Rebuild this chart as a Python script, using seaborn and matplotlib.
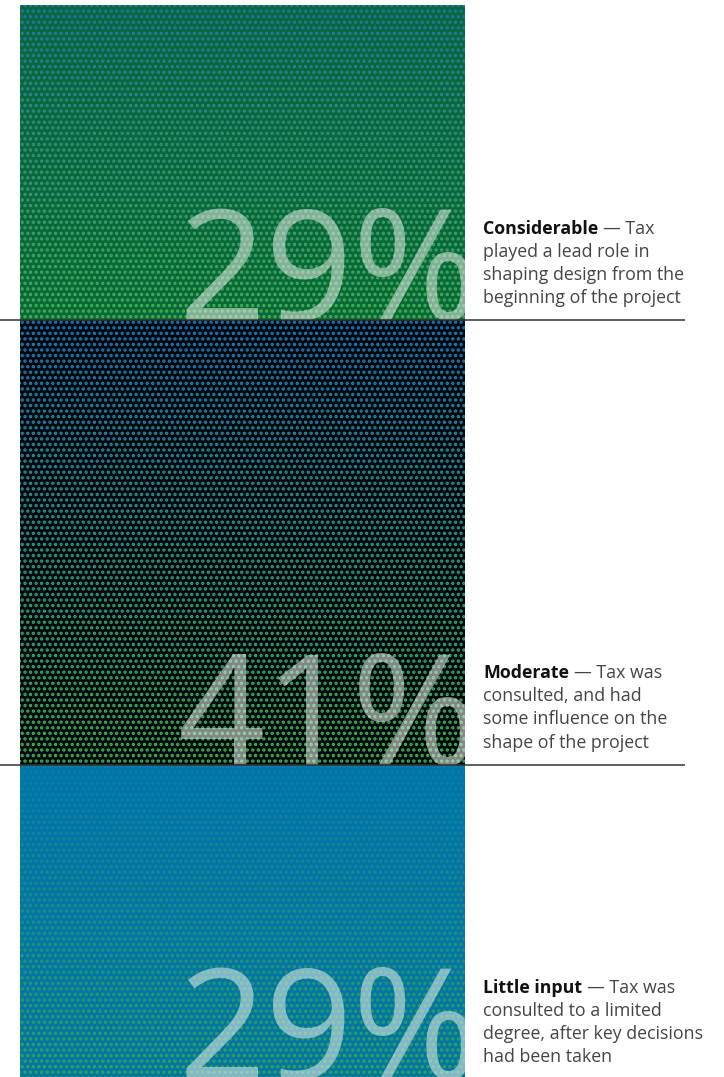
import numpy as np
import matplotlib
matplotlib.use('Agg')
import matplotlib.pyplot as plt
import seaborn as sns
from matplotlib.colors import to_rgb

# influence of tax on project design (share of respondents, %)
levels = ['Considerable', 'Moderate', 'Little input']
shares = [29, 41, 29]
pct_labels = ['29%', '41%', '29%']
descriptions = [
    ['— Tax', 'played a lead role in', 'shaping design from the', 'beginning of the project'],
    ['— Tax was', 'consulted, and had', 'some influence on the', 'shape of the project'],
    ['— Tax was', 'consulted to a limited', 'degree, after key decisions', 'had been taken'],
]

bg_colors = ['#05693a', '#02080e', '#0076a8']
dot_top = ['#2a6fb0', '#1b78bb', '#0a7bad']
dot_bottom = ['#4db04a', '#3fb54b', '#3ea445']

sns.set_theme(style='white')
plt.rcParams['font.family'] = ['Open Sans', 'DejaVu Sans']
plt.rcParams['hatch.linewidth'] = 1.6

W, H = 724, 1077
fig = plt.figure(figsize=(W / 100, H / 100), dpi=100)
ax = fig.add_axes([0, 0, 1, 1])
px_per_unit = 10.85
ax.set_xlim(0, W)
ax.set_ylim((H - 5) / px_per_unit, -5 / px_per_unit)
ax.axis('off')

bar_x, bar_w = 242.5, 445
n_slices = 24
bottoms = np.concatenate([[0], np.cumsum(shares)[:-1]])

for i, (share, bottom) in enumerate(zip(shares, bottoms)):
    base = ax.bar(bar_x, share, bottom=bottom, width=bar_w,
                  color=bg_colors[i], linewidth=0, zorder=1)[0]
    # dotted screen that shifts colour from top to bottom
    c0, c1 = np.array(to_rgb(dot_top[i])), np.array(to_rgb(dot_bottom[i]))
    step = share / n_slices
    for k in range(n_slices):
        t = (k + 0.5) / n_slices
        ax.bar(bar_x, step, bottom=bottom + k * step, width=bar_w,
               facecolor='none', edgecolor=tuple(c0 + (c1 - c0) * t),
               linewidth=0, hatch='...', zorder=2)
    # big translucent percentage, clipped at the bar edge
    txt = ax.text(bar_x + bar_w / 2 + 14, bottom + share, pct_labels[i],
                  ha='right', va='baseline', fontsize=110, fontweight='normal',
                  color='#e8f0e8', alpha=0.55, zorder=3, clip_on=True)
    txt.set_clip_path(base)

# separator lines
for b in np.cumsum(shares)[:-1]:
    ax.hlines(b, 0, 685, color='#333333', linewidth=1.1, zorder=4)

fig.canvas.draw()
renderer = fig.canvas.get_renderer()
line_gap = 23 / px_per_unit
label_x = 483
fs = 12.8
for i, (share, bottom) in enumerate(zip(shares, bottoms)):
    last_y = bottom + share - 17 / px_per_unit
    lines = descriptions[i]
    for j, line in enumerate(lines):
        y = last_y - (len(lines) - 1 - j) * line_gap
        if j == 0:
            bt = ax.text(label_x, y, levels[i], fontsize=fs, fontweight='bold',
                         color='#111111', va='baseline', ha='left')
            bb = bt.get_window_extent(renderer)
            ax.text(bb.x1 + 5, y, line, fontsize=fs, color='#444444',
                    va='baseline', ha='left')
        else:
            ax.text(label_x, y, line, fontsize=fs, color='#444444',
                    va='baseline', ha='left')

fig.savefig('out.png', dpi=100)
